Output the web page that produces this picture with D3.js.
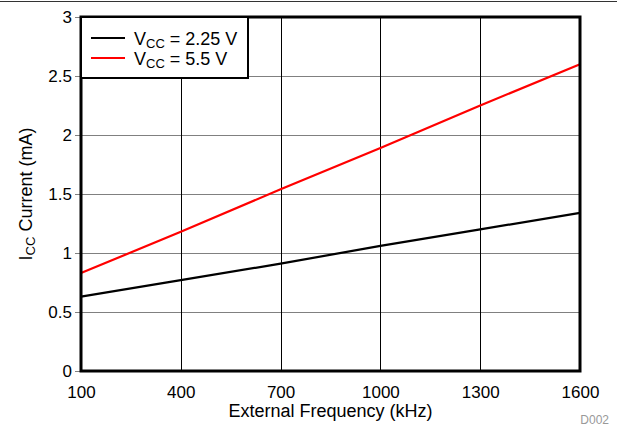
<!DOCTYPE html>
<html><head><meta charset="utf-8">
<script src="https://cdn.jsdelivr.net/npm/d3@7"></script>
<style>body{margin:0;background:#fff}svg{display:block;font-family:"Liberation Sans",Arial,sans-serif}</style>
</head><body>
<svg id="c" width="617" height="427"></svg>
<script>
const freq = [100, 400, 700, 1000, 1300, 1600];
const icc225 = [0.63, 0.77, 0.91, 1.06, 1.20, 1.34];
const icc55 = [0.83, 1.18, 1.54, 1.89, 2.25, 2.60];
const xTicks = [100, 400, 700, 1000, 1300, 1600];
const yTicks = [0, 0.5, 1, 1.5, 2, 2.5, 3];
const yTickLabels = ["0", "0.5", "1", "1.5", "2", "2.5", "3"];
const series = [
  {name: "2.25 V", values: icc225, color: "#000000"},
  {name: "5.5 V", values: icc55, color: "#ff0000"}
];

const svg = d3.select("#c");
const L = 81, R = 580, T = 17, B = 371;
const x = d3.scaleLinear().domain([100, 1600]).range([L, R]);
const y = d3.scaleLinear().domain([0, 3]).range([B, T]);

svg.append("line").attr("x1", 0).attr("x2", 617).attr("y1", 1.5).attr("y2", 1.5)
  .attr("stroke", "#333").attr("stroke-width", 1);

// grid
svg.append("g").selectAll("line").data(yTicks.slice(1, -1)).join("line")
  .attr("x1", L).attr("x2", R).attr("y1", d => Math.round(y(d)) + 0.5).attr("y2", d => Math.round(y(d)) + 0.5)
  .attr("stroke", "#808080").attr("stroke-width", 1);
svg.append("g").selectAll("line").data(xTicks.slice(1, -1)).join("line")
  .attr("y1", T).attr("y2", B).attr("x1", d => Math.round(x(d)) + 0.5).attr("x2", d => Math.round(x(d)) + 0.5)
  .attr("stroke", "#000").attr("stroke-width", 1);

// axes
const xAxis = d3.axisBottom(x).tickValues(xTicks).tickSize(0).tickPadding(15).tickFormat(d3.format("d"));
const gx = svg.append("g").attr("transform", `translate(0,${B})`).call(xAxis);
gx.select(".domain").remove();
gx.selectAll("text").attr("font-size", 17).attr("fill", "#000").attr("font-family", "Liberation Sans, Arial, sans-serif");

const yAxis = d3.axisLeft(y).tickValues(yTicks).tickSize(6).tickPadding(3).tickFormat((d, i) => yTickLabels[i]);
const gy = svg.append("g").attr("transform", `translate(${L},0)`).call(yAxis);
gy.select(".domain").remove();
gy.selectAll("line").attr("stroke", "#808080");
gy.selectAll("text").attr("font-size", 17).attr("fill", "#000").attr("font-family", "Liberation Sans, Arial, sans-serif");

// lines
const line = d3.line().x((d, i) => x(freq[i])).y(d => y(d));
series.forEach(s => {
  svg.append("path").datum(s.values).attr("d", line).attr("fill", "none")
    .attr("stroke", s.color).attr("stroke-width", 2.2);
});

// frame
svg.append("rect").attr("x", L).attr("y", T).attr("width", R - L).attr("height", B - T)
  .attr("fill", "none").attr("stroke", "#000").attr("stroke-width", 3);

// legend
const lg = svg.append("g");
lg.append("rect").attr("x", L).attr("y", T).attr("width", 167).attr("height", 61)
  .attr("fill", "#fff").attr("stroke", "#000").attr("stroke-width", 2);
series.forEach((s, i) => {
  const yy = 38 + i * 20;
  lg.append("line").attr("x1", 91).attr("x2", 125).attr("y1", yy).attr("y2", yy)
    .attr("stroke", s.color).attr("stroke-width", 2.2);
  const t = lg.append("text").attr("x", 134).attr("y", yy + 6.5).attr("font-size", 18).attr("fill", "#000");
  t.append("tspan").text("V");
  t.append("tspan").attr("font-size", 13).attr("dy", 3).text("CC");
  t.append("tspan").attr("dy", -3).text(" = " + s.name);
});

// axis titles
svg.append("text").attr("x", (L + R) / 2).attr("y", 417).attr("text-anchor", "middle")
  .attr("font-size", 18).attr("fill", "#000").text("External Frequency (kHz)");
const yt = svg.append("text").attr("transform", `translate(32,${(T + B) / 2}) rotate(-90)`)
  .attr("text-anchor", "middle").attr("font-size", 18).attr("fill", "#000");
yt.append("tspan").text("I");
yt.append("tspan").attr("font-size", 13).attr("dy", 3).text("CC");
yt.append("tspan").attr("dy", -3).text(" Current (mA)");

svg.append("text").attr("x", 609).attr("y", 424).attr("text-anchor", "end")
  .attr("font-size", 12).attr("fill", "#999").text("D002");
</script>
</body></html>
